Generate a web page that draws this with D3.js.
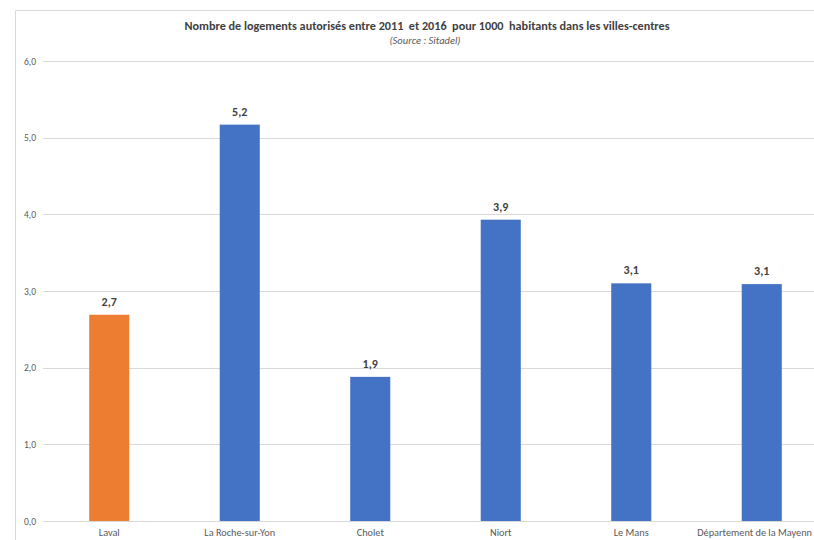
<!DOCTYPE html>
<html><head><meta charset="utf-8">
<script src="https://cdn.jsdelivr.net/npm/d3@7"></script>
<style>body{margin:0;background:#fff}svg{display:block}text{white-space:pre}</style>
</head><body>
<svg id="c" width="814" height="540"></svg>
<script>
const categories = ["Laval","La Roche-sur-Yon","Cholet","Niort","Le Mans","Département de la Mayenn"];
const values = [2.69, 5.17, 1.88, 3.93, 3.10, 3.09];
const labels = ["2,7","5,2","1,9","3,9","3,1","3,1"];
const highlight = ["Laval"];
const yTicks = [0,1,2,3,4,5,6];
const title = "Nombre de logements autorisés entre 2011  et 2016  pour 1000  habitants dans les villes-centres";
const subtitle = "(Source : Sitadel)";

const svg = d3.select("#c");
const font = "Calibri, Carlito, Lato, 'Liberation Sans', Arial, sans-serif";
// chart border
svg.append("path").attr("d","M15.5,540 V10.5 H814").attr("fill","none").attr("stroke","#d9d9d9").attr("stroke-width",1);

const x = d3.scaleBand().domain(categories).range([44, 827]).paddingInner(0.693).paddingOuter(0.3465);
const y = d3.scaleLinear().domain([0,6]).range([521, 61]);

const grid = svg.append("g");
grid.selectAll("line").data(yTicks).join("line")
  .attr("x1",43).attr("x2",814)
  .attr("y1",d=>Math.round(y(d))+0.5).attr("y2",d=>Math.round(y(d))+0.5)
  .attr("stroke","#d9d9d9").attr("stroke-width",1);

const yAxis = d3.axisLeft(y).tickValues(yTicks).tickSize(0).tickPadding(0)
  .tickFormat(d=>d3.format(".1f")(d).replace(".",","));
svg.append("g").attr("transform","translate(36,0)").call(yAxis)
  .call(g=>g.select(".domain").remove())
  .call(g=>g.selectAll("text").attr("fill","#595959").attr("font-size","9.5px").attr("font-family",font).attr("dy","0.35em"));

const xAxis = d3.axisBottom(x).tickSize(0).tickPadding(0);
svg.append("g").attr("transform","translate(0,529)").call(xAxis)
  .call(g=>g.select(".domain").remove())
  .call(g=>g.selectAll("text").attr("fill","#595959").attr("font-size","10.3px").attr("font-family",font).attr("dy","0.71em"))
  .call(g=>g.selectAll(".tick").each(function(){
    const t = d3.select(this), txt = t.select("text");
    const tr = /translate\(([^,]+),/.exec(t.attr("transform"));
    const cx = +tr[1], w = txt.node().getComputedTextLength();
    const over = cx + w/2 - 812;
    if (over > 0) txt.attr("x", -over);
  }));

svg.append("g").selectAll("rect").data(categories).join("rect")
  .attr("x",d=>x(d)).attr("width",x.bandwidth())
  .attr("y",(d,i)=>y(values[i])).attr("height",(d,i)=>y(0)-y(values[i]))
  .attr("fill",d=>highlight.includes(d)?"#ed7d31":"#4472c4");

svg.append("g").selectAll("text").data(categories).join("text")
  .attr("x",d=>x(d)+x.bandwidth()/2).attr("y",(d,i)=>y(values[i])-9)
  .attr("text-anchor","middle").attr("font-family",font).attr("font-weight","bold")
  .attr("font-size","12px").attr("fill","#404040").text((d,i)=>labels[i]);

svg.append("text").attr("x",427).attr("y",30).attr("text-anchor","middle")
  .attr("font-family",font).attr("font-weight","bold").attr("font-size","12.2px").attr("fill","#404040").text(title);
svg.append("text").attr("x",425).attr("y",44).attr("text-anchor","middle")
  .attr("font-family",font).attr("font-style","italic").attr("font-size","10.5px").attr("fill","#595959").text(subtitle);
</script>
</body></html>
